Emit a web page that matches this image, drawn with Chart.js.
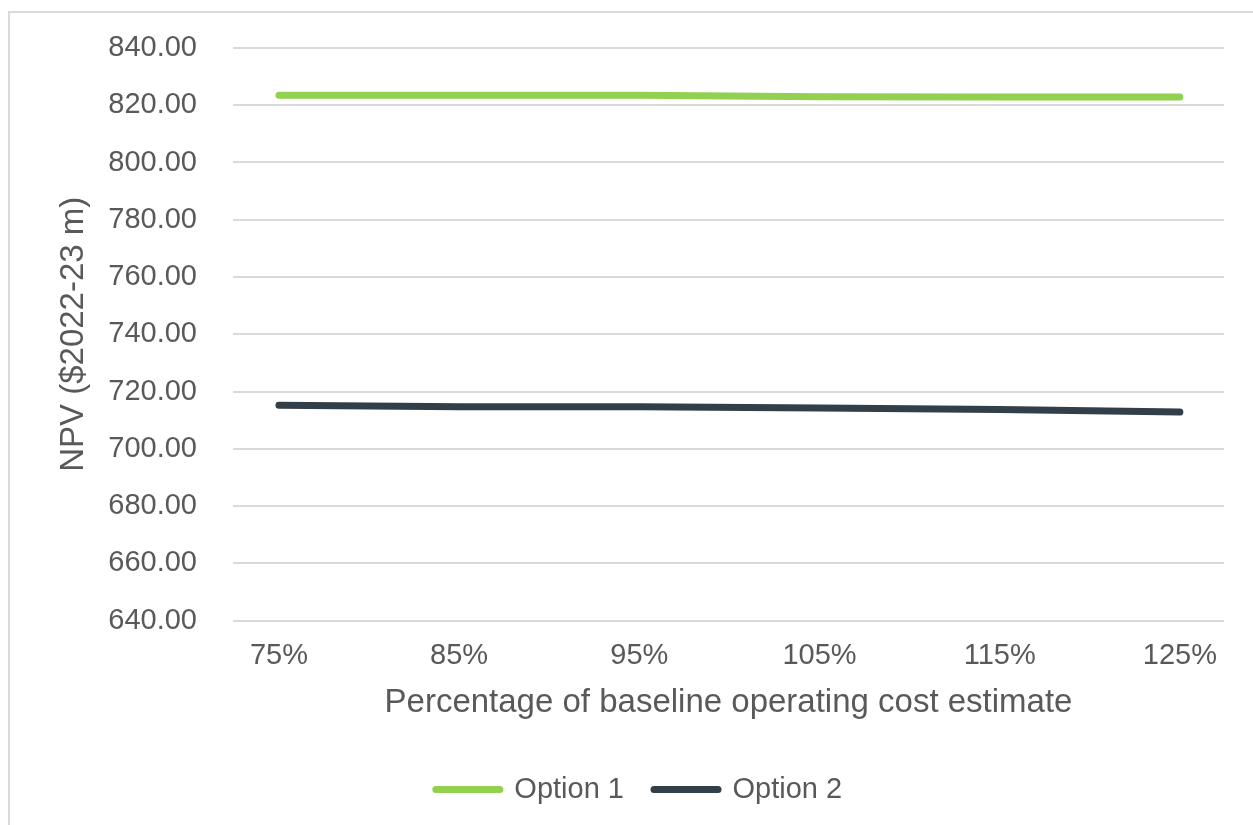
<!DOCTYPE html>
<html>
<head>
<meta charset="utf-8">
<script src="https://cdn.jsdelivr.net/npm/chart.js@4/dist/chart.umd.min.js"></script>
<style>
    html, body { margin: 0; padding: 0; background: #ffffff; overflow: hidden; }
    #frame {
        position: absolute; left: 8px; top: 11px;
        width: 2000px; height: 2000px;
        border: 2px solid #d9d9d9;
    }
    #npv-chart { position: absolute; left: 0; top: 0; }
</style>
</head>
<body>
<div id="frame"></div>
<canvas id="npv-chart" width="1253" height="825"></canvas>
<script>
// percentage of the baseline operating cost estimate
const costLevels = [75, 85, 95, 105, 115, 125];
const option1Npv = [823.5, 823.5, 823.5, 823.0, 822.9, 822.9];
const option2Npv = [715.2, 714.7, 714.7, 714.2, 713.7, 712.8];
const npvTicks = [640, 660, 680, 700, 720, 740, 760, 780, 800, 820, 840];

document.addEventListener('DOMContentLoaded', () => {
    const ctx = document.getElementById('npv-chart').getContext('2d');
    const textColor = '#595959';
    const fontFamily = '"Liberation Sans", Arial, sans-serif';

    const toPoints = (values) => values.map((v, i) => ({ x: costLevels[i], y: v }));

    // legend swatches are short round-capped lines like the series
    const defaultLabels = Chart.defaults.plugins.legend.labels.generateLabels;
    const roundLabels = (chart) => defaultLabels(chart).map(item => ({ ...item, lineCap: 'round' }));

    new Chart(ctx, {
        type: 'line',
        data: {
            datasets: [
                {
                    label: 'Option 1',
                    data: toPoints(option1Npv),
                    borderColor: '#92d050',
                    backgroundColor: '#92d050',
                    borderWidth: 7,
                    borderCapStyle: 'round',
                    borderJoinStyle: 'round',
                    pointRadius: 0,
                    tension: 0
                },
                {
                    label: 'Option 2',
                    data: toPoints(option2Npv),
                    borderColor: '#333f48',
                    backgroundColor: '#333f48',
                    borderWidth: 7,
                    borderCapStyle: 'round',
                    borderJoinStyle: 'round',
                    pointRadius: 0,
                    tension: 0
                }
            ]
        },
        options: {
            responsive: false,
            animation: false,
            devicePixelRatio: 1,
            layout: { padding: { left: 54, right: 29, top: 48, bottom: 11 } },
            plugins: {
                tooltip: { enabled: false },
                legend: {
                    position: 'bottom',
                    labels: {
                        usePointStyle: true,
                        pointStyle: 'line',
                        pointStyleWidth: 64,
                        padding: 30,
                        color: textColor,
                        font: { family: fontFamily, size: 29 },
                        generateLabels: roundLabels
                    }
                }
            },
            scales: {
                x: {
                    type: 'linear',
                    min: 72.45,
                    max: 127.45,
                    grid: { display: false, drawTicks: false },
                    border: { display: false },
                    afterBuildTicks: (scale) => {
                        scale.ticks = costLevels.map(v => ({ value: v }));
                    },
                    afterFit: (scale) => { scale.height = 124.5; },
                    ticks: {
                        padding: 18,
                        color: textColor,
                        font: { family: fontFamily, size: 29 },
                        callback: (value) => value + '%'
                    },
                    title: {
                        display: true,
                        text: 'Percentage of baseline operating cost estimate',
                        color: textColor,
                        font: { family: fontFamily, size: 33 },
                        padding: { top: 0, bottom: 22 }
                    }
                },
                y: {
                    min: 640,
                    max: 840,
                    afterBuildTicks: (scale) => {
                        scale.ticks = npvTicks.map(v => ({ value: v }));
                    },
                    afterFit: (scale) => {
                        scale.width = 179;
                        scale.paddingTop = 0;
                        scale.paddingBottom = 0;
                    },
                    grid: { color: '#d9d9d9', lineWidth: 2, drawTicks: false },
                    border: { display: false },
                    ticks: {
                        padding: 36,
                        color: textColor,
                        font: { family: fontFamily, size: 29 },
                        callback: (value) => value.toFixed(2)
                    },
                    title: {
                        display: true,
                        text: 'NPV ($2022-23 m)',
                        color: textColor,
                        font: { family: fontFamily, size: 33 },
                        padding: { top: 0, bottom: 0 }
                    }
                }
            }
        }
    });
});
</script>
</body>
</html>
